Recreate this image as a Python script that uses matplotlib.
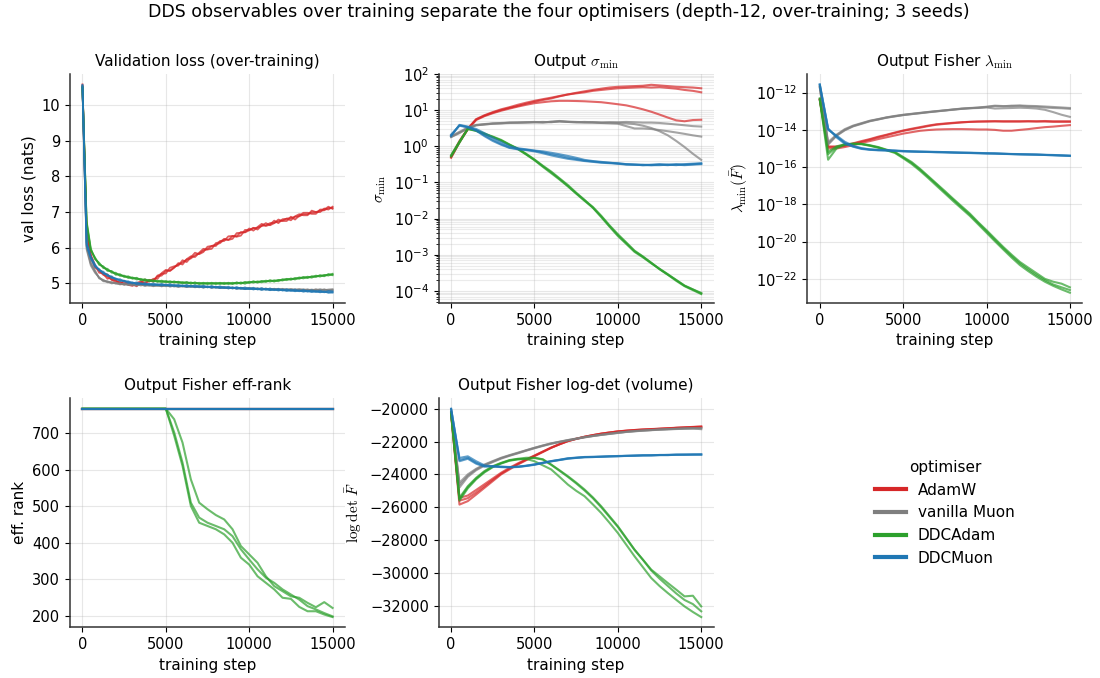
import numpy as np
import matplotlib.pyplot as plt
from matplotlib.lines import Line2D

plt.rcParams['mathtext.fontset'] = 'cm'
plt.rcParams['font.size'] = 10.5

optimisers = ["AdamW", "vanilla Muon", "DDCAdam", "DDCMuon"]
colors = ["#d62728", "#7f7f7f", "#2ca02c", "#1f77b4"]

# eval every 250 steps for the loss, every 500 for the spectral probes
loss_steps = np.arange(0, 15001, 250)
steps = np.arange(0, 15001, 500)

# ---- validation loss (nats), 3 seeds per optimiser
loss_adamw = [
    [10.55, 6.38, 5.81, 5.51, 5.30, 5.28, 5.25, 5.11, 5.03, 5.05,
     4.97, 5.03, 4.97, 4.92, 5.02, 5.11, 5.05, 5.13, 5.13, 5.29,
     5.38, 5.35, 5.44, 5.57, 5.53, 5.68, 5.76, 5.74, 5.86, 5.97,
     5.95, 5.97, 6.13, 6.16, 6.25, 6.22, 6.25, 6.41, 6.42, 6.44,
     6.54, 6.48, 6.58, 6.67, 6.61, 6.65, 6.76, 6.69, 6.80, 6.81,
     6.77, 6.88, 6.94, 6.91, 6.91, 7.04, 7.00, 7.00, 7.10, 7.07,
     7.15],
    [10.50, 6.45, 5.74, 5.44, 5.39, 5.27, 5.13, 5.18, 5.08, 4.99,
     5.07, 4.96, 4.93, 5.01, 5.06, 4.98, 5.08, 5.05, 5.22, 5.27,
     5.28, 5.44, 5.48, 5.50, 5.65, 5.60, 5.73, 5.86, 5.82, 5.88,
     6.03, 6.05, 6.05, 6.19, 6.19, 6.32, 6.33, 6.31, 6.34, 6.50,
     6.49, 6.56, 6.51, 6.62, 6.69, 6.63, 6.69, 6.79, 6.75, 6.75,
     6.87, 6.79, 6.90, 6.98, 6.98, 6.95, 6.95, 7.07, 7.07, 7.15,
     7.09],
    [10.58, 6.42, 5.76, 5.49, 5.36, 5.24, 5.19, 5.10, 5.09, 5.00,
     5.01, 4.97, 4.99, 4.95, 5.03, 5.02, 5.10, 5.09, 5.20, 5.22,
     5.35, 5.36, 5.45, 5.53, 5.59, 5.67, 5.70, 5.79, 5.84, 5.92,
     5.96, 6.05, 6.09, 6.13, 6.23, 6.22, 6.33, 6.32, 6.44, 6.43,
     6.49, 6.55, 6.56, 6.61, 6.63, 6.69, 6.70, 6.74, 6.76, 6.82,
     6.83, 6.87, 6.88, 6.94, 6.94, 6.99, 7.00, 7.04, 7.05, 7.11,
     7.12],
]
loss_muon = [
    [10.50, 5.95, 5.50, 5.30, 5.17, 5.06, 5.05, 5.00, 5.02, 4.97,
     4.99, 4.96, 4.98, 4.94, 4.97, 4.93, 4.96, 4.92, 4.95, 4.92,
     4.96, 4.91, 4.94, 4.90, 4.93, 4.90, 4.93, 4.89, 4.92, 4.88,
     4.91, 4.88, 4.91, 4.87, 4.90, 4.86, 4.89, 4.85, 4.88, 4.84,
     4.87, 4.84, 4.86, 4.83, 4.86, 4.82, 4.85, 4.82, 4.85, 4.81,
     4.84, 4.81, 4.84, 4.81, 4.83, 4.80, 4.84, 4.80, 4.83, 4.81,
     4.82],
    [10.48, 6.05, 5.58, 5.37, 5.14, 5.10, 5.03, 5.04, 4.99, 5.00,
     4.96, 4.99, 4.95, 4.98, 4.94, 4.97, 4.93, 4.96, 4.93, 4.95,
     4.92, 4.95, 4.91, 4.94, 4.91, 4.93, 4.90, 4.92, 4.89, 4.92,
     4.89, 4.91, 4.88, 4.90, 4.87, 4.89, 4.86, 4.88, 4.85, 4.87,
     4.85, 4.87, 4.84, 4.86, 4.83, 4.85, 4.83, 4.85, 4.82, 4.84,
     4.82, 4.84, 4.82, 4.84, 4.81, 4.83, 4.81, 4.84, 4.81, 4.83,
     4.84],
    [10.52, 6.00, 5.55, 5.33, 5.16, 5.08, 5.06, 5.02, 5.01, 4.99,
     4.98, 4.96, 4.98, 4.95, 4.97, 4.94, 4.96, 4.93, 4.95, 4.92,
     4.94, 4.92, 4.93, 4.91, 4.93, 4.90, 4.92, 4.90, 4.91, 4.89,
     4.91, 4.88, 4.90, 4.87, 4.89, 4.87, 4.88, 4.86, 4.87, 4.85,
     4.87, 4.84, 4.86, 4.84, 4.85, 4.83, 4.85, 4.82, 4.84, 4.82,
     4.84, 4.81, 4.83, 4.81, 4.83, 4.81, 4.82, 4.81, 4.83, 4.80,
     4.80],
]
loss_ddcadam = [
    [10.50, 6.75, 5.98, 5.68, 5.58, 5.43, 5.41, 5.30, 5.30, 5.21,
     5.22, 5.15, 5.17, 5.11, 5.13, 5.07, 5.10, 5.05, 5.08, 5.03,
     5.07, 5.02, 5.06, 5.01, 5.04, 5.00, 5.03, 4.99, 5.02, 4.98,
     5.02, 4.98, 5.02, 4.98, 5.02, 4.98, 5.02, 4.99, 5.03, 4.99,
     5.05, 5.02, 5.06, 5.03, 5.08, 5.05, 5.09, 5.06, 5.12, 5.09,
     5.14, 5.11, 5.17, 5.14, 5.19, 5.16, 5.22, 5.19, 5.24, 5.22,
     5.27],
    [10.48, 6.65, 5.92, 5.73, 5.52, 5.48, 5.35, 5.35, 5.24, 5.26,
     5.18, 5.20, 5.13, 5.16, 5.09, 5.12, 5.06, 5.09, 5.04, 5.08,
     5.03, 5.06, 5.02, 5.05, 5.00, 5.04, 4.99, 5.03, 4.98, 5.02,
     4.98, 5.02, 4.98, 5.02, 4.98, 5.02, 4.98, 5.03, 4.99, 5.04,
     5.01, 5.06, 5.02, 5.07, 5.04, 5.09, 5.05, 5.10, 5.08, 5.13,
     5.10, 5.15, 5.13, 5.18, 5.15, 5.20, 5.18, 5.23, 5.20, 5.26,
     5.23],
    [10.52, 6.70, 5.95, 5.71, 5.55, 5.46, 5.38, 5.33, 5.27, 5.24,
     5.20, 5.18, 5.15, 5.14, 5.11, 5.10, 5.08, 5.08, 5.06, 5.06,
     5.05, 5.05, 5.04, 5.04, 5.02, 5.03, 5.01, 5.02, 5.00, 5.01,
     5.00, 5.01, 5.00, 5.01, 5.00, 5.01, 5.00, 5.02, 5.01, 5.03,
     5.03, 5.05, 5.04, 5.06, 5.06, 5.08, 5.07, 5.09, 5.10, 5.12,
     5.12, 5.14, 5.15, 5.17, 5.17, 5.19, 5.20, 5.22, 5.22, 5.25,
     5.25],
]
loss_ddcmuon = [
    [10.55, 6.05, 5.70, 5.47, 5.40, 5.27, 5.25, 5.15, 5.14, 5.07,
     5.08, 5.01, 5.03, 4.98, 5.01, 4.96, 4.99, 4.95, 4.98, 4.94,
     4.97, 4.93, 4.96, 4.92, 4.95, 4.91, 4.94, 4.90, 4.93, 4.89,
     4.92, 4.88, 4.91, 4.87, 4.90, 4.86, 4.89, 4.85, 4.88, 4.84,
     4.87, 4.83, 4.86, 4.82, 4.85, 4.81, 4.84, 4.80, 4.83, 4.79,
     4.82, 4.78, 4.81, 4.77, 4.80, 4.76, 4.79, 4.75, 4.78, 4.74,
     4.76],
    [10.52, 6.15, 5.75, 5.53, 5.36, 5.33, 5.21, 5.20, 5.11, 5.12,
     5.05, 5.06, 5.00, 5.03, 4.98, 5.01, 4.96, 5.00, 4.95, 4.99,
     4.94, 4.98, 4.93, 4.96, 4.92, 4.96, 4.91, 4.95, 4.90, 4.94,
     4.89, 4.93, 4.88, 4.92, 4.87, 4.91, 4.86, 4.90, 4.85, 4.89,
     4.84, 4.88, 4.83, 4.87, 4.82, 4.86, 4.81, 4.85, 4.80, 4.84,
     4.79, 4.83, 4.78, 4.82, 4.77, 4.81, 4.76, 4.80, 4.75, 4.79,
     4.78],
    [10.56, 6.10, 5.72, 5.50, 5.38, 5.30, 5.23, 5.17, 5.13, 5.09,
     5.07, 5.04, 5.02, 5.00, 4.99, 4.98, 4.97, 4.97, 4.96, 4.96,
     4.95, 4.95, 4.94, 4.94, 4.93, 4.92, 4.92, 4.92, 4.91, 4.91,
     4.90, 4.90, 4.89, 4.89, 4.88, 4.88, 4.87, 4.87, 4.86, 4.85,
     4.85, 4.85, 4.84, 4.83, 4.84, 4.82, 4.82, 4.82, 4.81, 4.80,
     4.80, 4.79, 4.79, 4.78, 4.78, 4.77, 4.77, 4.76, 4.76, 4.75,
     4.74],
]

# ---- output sigma_min
sigma_adamw = [
    [0.5, 1.3, 3.0, 5.5, 7.0, 8.5, 10, 11.5, 13, 15, 17, 19, 21, 24, 27, 30,
     33, 36, 39, 42, 44, 45, 46, 47, 50, 48, 46, 44, 43, 42, 40],
    [0.52, 1.4, 3.1, 5.6, 7.2, 8.8, 10.5, 12, 14, 16, 18, 20, 22, 24.5, 27, 29,
     31, 34, 36, 38, 40, 41, 42, 43, 42, 43, 41, 39, 36, 34, 31],
    [0.48, 1.3, 2.9, 5.3, 6.8, 8.2, 9.6, 11, 12.5, 14, 15.5, 16.5, 17.5, 18, 18,
     17.8, 17.5, 17, 16.5, 15.5, 14.5, 13.5, 12, 10.5, 9, 7.5, 6.2, 5.2, 4.9, 5.3, 5.4],
]
sigma_muon = [
    [1.8, 2.3, 3.2, 3.8, 4.0, 4.2, 4.3, 4.4, 4.5, 4.5, 4.6, 4.6, 4.7, 4.8, 4.7,
     4.6, 4.7, 4.6, 4.5, 4.6, 4.6, 4.7, 4.6, 4.5, 4.5, 4.4, 4.2, 4.0, 3.8, 3.6, 3.5],
    [1.9, 2.5, 3.3, 3.9, 4.1, 4.3, 4.3, 4.5, 4.5, 4.6, 4.7, 4.5, 4.8, 5.0, 4.7,
     4.6, 4.5, 4.5, 4.4, 4.3, 4.2, 3.6, 3.1, 3.1, 3.0, 2.8, 2.6, 2.4, 2.2, 2.0, 1.85],
    [1.8, 2.4, 3.1, 3.8, 4.0, 4.2, 4.4, 4.5, 4.5, 4.6, 4.6, 4.7, 4.6, 4.9, 4.8,
     4.7, 4.6, 4.6, 4.5, 4.5, 4.4, 4.3, 4.1, 3.7, 3.2, 2.6, 2.0, 1.4, 0.95, 0.62, 0.42],
]
sigma_ddcadam = [
    [0.55, 1.3, 3.0, 2.7, 2.2, 1.8, 1.45, 1.1, 0.85, 0.6, 0.42, 0.28, 0.19, 0.125,
     0.08, 0.05, 0.032, 0.021, 0.012, 0.0065, 0.0037, 0.0022, 0.0013, 0.0009,
     0.0006, 0.0004, 0.00028, 0.0002, 0.00014, 0.00011, 0.000085],
    [0.52, 1.25, 3.1, 2.75, 2.25, 1.85, 1.5, 1.12, 0.86, 0.62, 0.43, 0.29, 0.2,
     0.13, 0.085, 0.052, 0.033, 0.02, 0.011, 0.006, 0.0033, 0.002, 0.0012,
     0.00085, 0.00058, 0.00041, 0.00029, 0.0002, 0.00014, 0.00011, 0.000088],
    [0.57, 1.35, 3.0, 2.65, 2.15, 1.78, 1.42, 1.08, 0.83, 0.59, 0.41, 0.27, 0.18,
     0.12, 0.078, 0.049, 0.031, 0.02, 0.0115, 0.0062, 0.0035, 0.0021, 0.00125,
     0.00088, 0.0006, 0.0004, 0.00028, 0.00019, 0.000135, 0.000105, 0.000082],
]
sigma_ddcmuon = [
    [2.0, 3.8, 3.4, 2.8, 2.0, 1.5, 1.15, 0.92, 0.85, 0.8, 0.75, 0.68, 0.6, 0.55,
     0.48, 0.44, 0.40, 0.38, 0.36, 0.35, 0.34, 0.32, 0.31, 0.31, 0.30, 0.31, 0.30,
     0.32, 0.31, 0.32, 0.33],
    [1.9, 3.9, 3.5, 3.0, 2.3, 1.7, 1.3, 1.0, 0.88, 0.82, 0.76, 0.72, 0.66, 0.60,
     0.54, 0.48, 0.42, 0.39, 0.37, 0.35, 0.33, 0.32, 0.31, 0.30, 0.31, 0.32, 0.31,
     0.30, 0.32, 0.33, 0.34],
    [2.1, 3.7, 3.3, 2.7, 1.9, 1.4, 1.1, 0.9, 0.82, 0.78, 0.72, 0.64, 0.56, 0.50,
     0.45, 0.42, 0.39, 0.37, 0.35, 0.34, 0.33, 0.31, 0.31, 0.30, 0.30, 0.30, 0.31,
     0.31, 0.30, 0.31, 0.32],
]

# ---- output Fisher lambda_min
lam_adamw = [
    [4.5e-13, 1.3e-15, 1.2e-15, 1.4e-15, 1.8e-15, 2.3e-15, 3.0e-15, 4.0e-15,
     5.2e-15, 6.8e-15, 8.8e-15, 1.08e-14, 1.3e-14, 1.6e-14, 1.9e-14, 2.1e-14,
     2.3e-14, 2.5e-14, 2.7e-14, 2.8e-14, 2.9e-14, 2.9e-14, 2.9e-14, 2.9e-14,
     2.9e-14, 2.9e-14, 2.9e-14, 3.0e-14, 2.9e-14, 2.9e-14, 2.9e-14],
    [4.0e-13, 1.2e-15, 1.3e-15, 1.5e-15, 1.9e-15, 2.5e-15, 3.2e-15, 4.3e-15,
     5.5e-15, 7.2e-15, 9.3e-15, 1.15e-14, 1.4e-14, 1.7e-14, 2.0e-14, 2.2e-14,
     2.4e-14, 2.6e-14, 2.7e-14, 2.8e-14, 2.8e-14, 2.9e-14, 2.8e-14, 2.8e-14,
     2.8e-14, 2.9e-14, 2.8e-14, 2.8e-14, 2.7e-14, 2.7e-14, 2.7e-14],
    [4.2e-13, 1.0e-15, 1.0e-15, 1.2e-15, 1.5e-15, 2.0e-15, 2.5e-15, 3.2e-15,
     4.0e-15, 5.0e-15, 6.3e-15, 7.5e-15, 8.9e-15, 9.8e-15, 1.05e-14, 1.08e-14,
     1.1e-14, 1.1e-14, 1.08e-14, 1.05e-14, 1.05e-14, 1.0e-14, 9.0e-15, 9.0e-15,
     1.0e-14, 1.1e-14, 1.25e-14, 1.4e-14, 1.5e-14, 1.65e-14, 1.8e-14],
]
lam_muon = [
    [2.0e-12, 1.8e-15, 5.0e-15, 1.0e-14, 1.6e-14, 2.2e-14, 3.0e-14, 3.7e-14,
     4.6e-14, 5.4e-14, 6.3e-14, 7.1e-14, 8.0e-14, 9.0e-14, 1.0e-13, 1.1e-13,
     1.25e-13, 1.35e-13, 1.5e-13, 1.55e-13, 1.7e-13, 1.9e-13, 1.85e-13, 2.0e-13,
     1.95e-13, 1.8e-13, 1.75e-13, 1.6e-13, 1.5e-13, 1.45e-13, 1.35e-13],
    [2.2e-12, 2.2e-15, 5.5e-15, 1.1e-14, 1.7e-14, 2.3e-14, 3.1e-14, 3.8e-14,
     4.7e-14, 5.6e-14, 6.5e-14, 7.3e-14, 8.2e-14, 9.2e-14, 1.02e-13, 1.12e-13,
     1.25e-13, 1.4e-13, 1.45e-13, 1.6e-13, 1.75e-13, 2.0e-13, 1.9e-13, 1.9e-13,
     2.05e-13, 1.95e-13, 1.9e-13, 1.8e-13, 1.7e-13, 1.6e-13, 1.5e-13],
    [1.9e-12, 1.6e-15, 4.8e-15, 9.5e-15, 1.55e-14, 2.1e-14, 2.9e-14, 3.6e-14,
     4.5e-14, 5.3e-14, 6.2e-14, 7.0e-14, 7.8e-14, 8.8e-14, 9.8e-14, 1.1e-13,
     1.2e-13, 1.35e-13, 1.45e-13, 1.5e-13, 1.6e-13, 1.4e-13, 1.45e-13, 1.5e-13,
     1.55e-13, 1.5e-13, 1.4e-13, 1.2e-13, 9.0e-14, 6.5e-14, 5.0e-14],
]
lam_ddcadam = [
    [5.0e-13, 6.6e-16, 1.3e-15, 1.7e-15, 1.8e-15, 1.8e-15, 1.5e-15, 1.2e-15,
     8.7e-16, 6.6e-16, 3.5e-16, 1.9e-16, 8.3e-17, 3.3e-17, 1.3e-17, 5.2e-18,
     2.0e-18, 8.0e-19, 3.2e-19, 1.1e-19, 4.1e-20, 1.45e-20, 5.2e-21, 2.0e-21,
     8.1e-22, 4.0e-22, 2.0e-22, 1.0e-22, 7.0e-23, 5.5e-23, 3.5e-23],
    [4.5e-13, 2.5e-16, 1.0e-15, 1.6e-15, 1.75e-15, 1.7e-15, 1.4e-15, 1.1e-15,
     8.0e-16, 5.8e-16, 3.0e-16, 1.5e-16, 6.5e-17, 2.6e-17, 1.0e-17, 3.9e-18,
     1.5e-18, 6.0e-19, 2.4e-19, 8.5e-20, 3.0e-20, 1.05e-20, 3.8e-21, 1.4e-21,
     5.5e-22, 2.6e-22, 1.3e-22, 7.0e-23, 4.2e-23, 2.7e-23, 1.8e-23],
    [4.0e-13, 5.0e-16, 1.15e-15, 1.65e-15, 1.8e-15, 1.75e-15, 1.45e-15, 1.15e-15,
     8.3e-16, 6.2e-16, 3.3e-16, 1.7e-16, 7.5e-17, 3.0e-17, 1.2e-17, 4.5e-18,
     1.8e-18, 7.0e-19, 2.8e-19, 1.0e-19, 3.6e-20, 1.25e-20, 4.5e-21, 1.7e-21,
     6.8e-22, 3.2e-22, 1.6e-22, 8.5e-23, 5.0e-23, 3.5e-23, 2.5e-23],
]
lam_ddcmuon = [
    [2.7e-12, 1.2e-14, 4.0e-15, 1.8e-15, 1.25e-15, 9.5e-16, 8.5e-16, 8.0e-16,
     7.8e-16, 7.5e-16, 7.0e-16, 6.8e-16, 6.6e-16, 6.5e-16, 6.3e-16, 6.2e-16,
     6.0e-16, 5.9e-16, 5.8e-16, 5.6e-16, 5.5e-16, 5.3e-16, 5.2e-16, 5.0e-16,
     4.9e-16, 4.8e-16, 4.6e-16, 4.5e-16, 4.3e-16, 4.2e-16, 4.0e-16],
    [2.5e-12, 1.0e-14, 5.0e-15, 2.3e-15, 1.4e-15, 1.05e-15, 9.0e-16, 8.5e-16,
     8.2e-16, 7.8e-16, 7.4e-16, 7.1e-16, 6.9e-16, 6.7e-16, 6.6e-16, 6.4e-16,
     6.2e-16, 6.1e-16, 6.0e-16, 5.8e-16, 5.6e-16, 5.5e-16, 5.3e-16, 5.1e-16,
     5.0e-16, 4.9e-16, 4.8e-16, 4.6e-16, 4.5e-16, 4.3e-16, 4.1e-16],
    [2.8e-12, 1.1e-14, 4.5e-15, 2.0e-15, 1.3e-15, 1.0e-15, 8.8e-16, 8.2e-16,
     7.9e-16, 7.6e-16, 7.2e-16, 6.9e-16, 6.7e-16, 6.6e-16, 6.4e-16, 6.3e-16,
     6.1e-16, 5.8e-16, 5.7e-16, 5.6e-16, 5.4e-16, 5.4e-16, 5.1e-16, 5.0e-16,
     4.8e-16, 4.7e-16, 4.7e-16, 4.5e-16, 4.4e-16, 4.2e-16, 4.1e-16],
]

# ---- output Fisher effective rank (full rank = 768)
rank_full = [768, 768, 768, 768, 768, 768, 768, 768, 768, 768, 768, 768, 768,
             768, 768, 768, 768, 768, 768, 768, 768, 768, 768, 768, 768, 768,
             768, 768, 768, 768, 768]
rank_ddcadam = [
    [768, 768, 768, 768, 768, 768, 768, 768, 768, 768, 768, 739, 675, 574, 510,
     492, 476, 464, 437, 391, 368, 345, 308, 281, 267, 253, 249, 235, 223, 237, 221],
    [768, 768, 768, 768, 768, 768, 768, 768, 768, 768, 768, 703, 620, 510, 469,
     455, 446, 437, 418, 382, 354, 327, 304, 290, 272, 258, 244, 226, 217, 207, 198],
    [768, 768, 768, 768, 768, 768, 768, 768, 768, 768, 768, 694, 611, 501, 455,
     446, 437, 423, 400, 359, 340, 308, 290, 272, 249, 246, 224, 212, 212, 203, 196],
]

# ---- output Fisher log-det
logdet_adamw = [
    [-20300, -25840, -25630, -25230, -24820, -24410, -24000, -23700, -23400,
     -23140, -22890, -22640, -22380, -22170, -21970, -21840, -21710, -21610,
     -21520, -21450, -21380, -21340, -21300, -21270, -21260, -21230, -21200,
     -21170, -21150, -21120, -21100],
    [-20200, -25430, -25290, -24950, -24600, -24250, -23900, -23600, -23330,
     -23090, -22850, -22610, -22370, -22160, -21970, -21830, -21710, -21610,
     -21520, -21450, -21390, -21340, -21300, -21270, -21240, -21220, -21190,
     -21160, -21140, -21110, -21090],
    [-20350, -25600, -25450, -25100, -24720, -24330, -23960, -23650, -23370,
     -23110, -22870, -22620, -22380, -22170, -21980, -21840, -21720, -21620,
     -21530, -21460, -21390, -21350, -21310, -21280, -21250, -21220, -21200,
     -21170, -21140, -21120, -21100],
]
logdet_muon = [
    [-20300, -24510, -24000, -23660, -23400, -23190, -22990, -22830, -22680,
     -22530, -22380, -22240, -22110, -22010, -21910, -21820, -21730, -21660,
     -21590, -21520, -21460, -21410, -21360, -21330, -21300, -21270, -21240,
     -21220, -21200, -21190, -21180],
    [-20250, -24800, -24150, -23750, -23470, -23250, -23040, -22870, -22720,
     -22560, -22410, -22270, -22140, -22030, -21930, -21840, -21750, -21670,
     -21600, -21540, -21480, -21420, -21380, -21340, -21310, -21280, -21260,
     -21240, -21220, -21210, -21200],
    [-20350, -24650, -24080, -23700, -23430, -23220, -23010, -22850, -22700,
     -22540, -22390, -22250, -22120, -22020, -21920, -21830, -21740, -21660,
     -21590, -21530, -21470, -21410, -21370, -21330, -21300, -21270, -21250,
     -21230, -21210, -21200, -21250],
]
logdet_ddcadam = [
    [-20240, -25430, -24720, -24210, -23800, -23500, -23300, -23130, -23050,
     -22990, -22990, -23080, -23400, -23750, -24110, -24500, -24920, -25400,
     -25940, -26550, -27160, -27870, -28580, -29190, -29800, -30210, -30620,
     -31020, -31430, -31390, -32040],
    [-20300, -25600, -24850, -24300, -23880, -23560, -23340, -23170, -23090,
     -23050, -23000, -23100, -23420, -23780, -24150, -24550, -24980, -25450,
     -26000, -26600, -27200, -27900, -28600, -29200, -29850, -30350, -30800,
     -31250, -31650, -31900, -32340],
    [-20200, -25500, -24780, -24260, -23840, -23530, -23320, -23150, -23070,
     -23060, -23200, -23450, -23700, -24150, -24620, -25000, -25330, -25830,
     -26350, -26950, -27570, -28280, -28990, -29650, -30310, -30800, -31230,
     -31640, -32040, -32380, -32690],
]
logdet_ddcmuon = [
    [-20000, -23130, -22990, -23300, -23500, -23500, -23540, -23560, -23540,
     -23480, -23400, -23300, -23200, -23120, -23030, -22990, -22950, -22940,
     -22930, -22910, -22890, -22880, -22860, -22850, -22840, -22830, -22820,
     -22810, -22800, -22800, -22790],
    [-20050, -23000, -22900, -23200, -23450, -23520, -23560, -23580, -23550,
     -23490, -23420, -23310, -23210, -23130, -23050, -23000, -22960, -22950,
     -22920, -22900, -22900, -22870, -22870, -22840, -22850, -22820, -22830,
     -22800, -22810, -22790, -22800],
    [-20020, -23200, -23050, -23350, -23530, -23510, -23530, -23550, -23530,
     -23470, -23390, -23290, -23190, -23110, -23020, -22980, -22940, -22930,
     -22920, -22900, -22880, -22870, -22850, -22840, -22830, -22820, -22810,
     -22800, -22790, -22790, -22780],
]

fig, axes = plt.subplots(2, 3, figsize=(11, 6.78), dpi=100)
fig.subplots_adjust(left=0.0636, right=0.984, top=0.891, bottom=0.0745,
                    wspace=0.34, hspace=0.415)
fig.suptitle("DDS observables over training separate the four optimisers "
             "(depth-12, over-training; 3 seeds)", fontsize=12.5, x=0.508, y=0.995)


def draw(ax, x, groups, lw=1.5, alpha=0.7):
    for seeds, c in zip(groups, colors):
        for s in seeds:
            ax.plot(x, s, color=c, lw=lw, alpha=alpha)


def style(ax, title, ylabel):
    ax.set_title(title, fontsize=11)
    ax.set_xlabel("training step", fontsize=11)
    ax.set_ylabel(ylabel, fontsize=11)
    ax.spines['top'].set_visible(False)
    ax.spines['right'].set_visible(False)
    for sp in ('left', 'bottom'):
        ax.spines[sp].set_linewidth(1.1)
        ax.spines[sp].set_color('#333333')
    ax.grid(True, alpha=0.3)
    ax.set_xticks([0, 5000, 10000, 15000])


ax = axes[0, 0]
draw(ax, loss_steps, [loss_adamw, loss_muon, loss_ddcadam, loss_ddcmuon], lw=1.3, alpha=0.75)
style(ax, "Validation loss (over-training)", "val loss (nats)")

ax = axes[0, 1]
draw(ax, steps, [sigma_adamw, sigma_muon, sigma_ddcadam, sigma_ddcmuon])
ax.set_yscale('log')
ax.set_ylim(4.6e-5, 100)
style(ax, r"Output $\sigma_{\min}$", r"$\sigma_{\min}$")
ax.grid(True, which='minor', axis='y', alpha=0.25)

ax = axes[0, 2]
draw(ax, steps, [lam_adamw, lam_muon, lam_ddcadam, lam_ddcmuon])
ax.set_yscale('log')
style(ax, r"Output Fisher $\lambda_{\min}$", r"$\lambda_{\min}(\bar{F})$")

ax = axes[1, 0]
draw(ax, steps, [[rank_full] * 3, [rank_full] * 3, rank_ddcadam, [rank_full] * 3])
style(ax, "Output Fisher eff-rank", "eff. rank")

ax = axes[1, 1]
draw(ax, steps, [logdet_adamw, logdet_muon, logdet_ddcadam, logdet_ddcmuon])
style(ax, "Output Fisher log-det (volume)", r"$\log\det\,\bar{F}$")

ax = axes[1, 2]
ax.axis('off')
handles = [Line2D([0], [0], color=c, lw=3) for c in colors]
ax.legend(handles, optimisers, title="optimiser", loc='center', frameon=False,
          fontsize=11, title_fontsize=11)

fig.savefig("out.png", dpi=100)
